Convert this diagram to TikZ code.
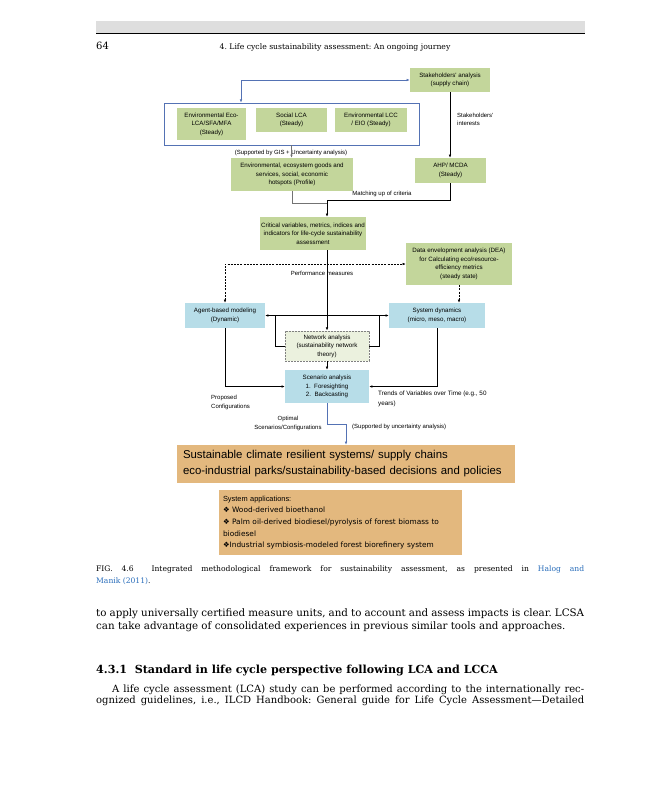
\documentclass[tikz,border=0pt]{standalone}
\usepackage{fontspec}
\newfontfamily\arial{Liberation Sans}
\newfontfamily\dejavu{DejaVu Sans}
\newfontfamily\bodyserif[Ligatures=TeX]{DejaVu Serif}
\usetikzlibrary{arrows.meta}
\definecolor{boxgreen}{HTML}{C3D69B}
\definecolor{boxblue}{HTML}{B7DDE8}
\definecolor{netgreen}{HTML}{EBF1DE}
\definecolor{tan}{HTML}{E3B87E}
\definecolor{frameblue}{HTML}{5472B4}
\definecolor{linkblue}{HTML}{2A6EBB}
\definecolor{bandgray}{HTML}{DEDEDE}
\newcommand{\dia}{\dejavu\symbol{"2756}}
\frenchspacing
\tikzset{
  dtext/.style={font=\arial\fontsize{6.2}{8.6}\selectfont, align=center, inner sep=0pt},
  gbox/.style={dtext, fill=boxgreen, draw=none},
  bbox/.style={dtext, fill=boxblue, draw=none},
  lbl/.style={dtext, font=\arial\fontsize{6}{8.6}\selectfont},
  conn/.style={line width=0.6pt, black},
  gconn/.style={line width=0.8pt, black!55},
  bconn/.style={line width=0.7pt, frameblue},
  dconn/.style={line width=0.6pt, black, dash pattern=on 2pt off 1.2pt},
  serif/.style={inner sep=0pt, anchor=base west},
}
\begin{document}
\begin{tikzpicture}[x=1pt,y=-1pt, >={Latex[length=3.2pt,width=2.6pt]}]
\useasboundingbox[fill=white] (0,0) rectangle (648,800);

% page header
\fill[bandgray] (96,21) rectangle (585,33);
\draw[line width=1pt] (96,33.5) -- (585,33.5);
\node[serif] (pnum) at (96,50) {\bodyserif\fontsize{10}{12}\selectfont 64};
\node[inner sep=0pt, anchor=base] (rtitle) at (335,49) {\bodyserif\fontsize{7.7}{9}\selectfont 4.\ Life cycle sustainability assessment: An ongoing journey};

% diagram boxes
\node[gbox, minimum width=80pt, minimum height=24pt] (stake) at (450,80) {Stakeholders' analysis\\(supply chain)};
\node[draw=frameblue, line width=0.8pt, minimum width=255pt, minimum height=42pt, inner sep=0pt] (outer) at (291.5,124) {};
\node[gbox, minimum width=69pt, minimum height=32pt] (enveco) at (211.5,124) {Environmental Eco-\\LCA/SFA/MFA\\(Steady)};
\node[gbox, minimum width=71pt, minimum height=24pt] (social) at (291.5,120) {Social LCA\\(Steady)};
\node[gbox, minimum width=72pt, minimum height=24pt] (envlcc) at (371,120) {Environmental LCC\\/ EIO (Steady)};
\node[lbl, align=left, anchor=west] (interests) at (457,119.5) {Stakeholders'\\interests};
\node[lbl] (gis) at (291,153) {(Supported by GIS + Uncertainty analysis)};
\node[gbox, minimum width=122pt, minimum height=33pt] (envsvc) at (292,174.5) {Environmental, ecosystem goods and\\services, social, economic\\hotspots (Profile)};
\node[gbox, minimum width=71pt, minimum height=25pt] (ahp) at (450.5,170.5) {AHP/ MCDA\\(Steady)};
\node[lbl] (matching) at (382,194) {Matching up of criteria};
\node[gbox, minimum width=106pt, minimum height=33pt] (crit) at (313,233.5) {Critical variables, metrics, indices and\\indicators for life-cycle sustainability\\assessment};
\node[gbox, minimum width=106pt, minimum height=42pt] (dea) at (459,264) {Data envelopment analysis (DEA)\\for Calculating eco/resource-\\efficiency metrics\\(steady state)};
\node[lbl] (perf) at (322,273) {Performance measures};
\node[bbox, minimum width=80pt, minimum height=25pt] (agent) at (225,315.5) {Agent-based modeling\\(Dynamic)};
\node[bbox, minimum width=96pt, minimum height=25pt] (sysdyn) at (437,315.5) {System dynamics\\(micro, meso, macro)};
\node[dtext, fill=netgreen, draw=black!50, line width=0.9pt, dash pattern=on 2pt off 1pt, minimum width=84pt, minimum height=30pt] (network) at (327,346) {Network analysis\\(sustainability network\\theory)};
\node[bbox, minimum width=84pt, minimum height=33pt] (scen) at (327,386.5) {Scenario analysis\\1.\ \ Foresighting\\2.\ \ Backcasting};
\node[lbl, align=left, anchor=west] (proposed) at (211,402.5) {Proposed\\Configurations};
\node[lbl, align=left, anchor=west, font=\arial\fontsize{6.3}{9.5}\selectfont] (trends) at (378,399) {Trends of Variables over Time (e.g., 50\\years)};
\node[lbl] (optimal) at (288,423.5) {Optimal\\Scenarios/Configurations};
\node[lbl, anchor=west] (supp) at (352,427) {(Supported by uncertainty analysis)};
\node[fill=tan, minimum width=338pt, minimum height=38pt, inner xsep=6pt, inner ysep=0pt, text width=326pt, align=left, font=\arial\fontsize{11.4}{16}\selectfont] (sust) at (346,464) {Sustainable climate resilient systems/ supply chains\\eco-industrial parks/sustainability-based decisions and policies};
\node[fill=tan, minimum width=243pt, minimum height=65pt, inner xsep=4pt, inner ysep=0pt, text width=235pt, align=left, font=\arial\fontsize{7.4}{11.7}\selectfont] (sysapp) at (340.5,522.5) {System applications:\\\dia{} Wood-derived bioethanol\\\dia{} Palm oil-derived biodiesel/pyrolysis of forest biomass to\\biodiesel\\\dia{}Industrial symbiosis-modeled forest biorefinery system};

% connectors
\coordinate (bc) at (241,80);
\draw[bconn,<->] (outer.north -| bc) |- (stake.west);
\draw[conn,->] (stake.south) -- (stake.south |- ahp.north);
\draw[gconn,->] (outer.south) -- (outer.south |- envsvc.north);
\coordinate (jx) at (327,200);
\coordinate (jl) at (327,203);
\draw[gconn] (envsvc.south) |- (jl);
\draw[conn,->] (ahp.south) |- (jx) -- (jx |- crit.north);
\draw[conn,->] (crit.south -| network.north) -- (network.north);
\draw[dconn,<->] (agent.north) |- (dea.west);
\draw[dconn,->] (dea.south) -- (dea.south |- sysdyn.north);
\draw[conn,<->] (agent.east) -- (sysdyn.west);
\coordinate (bl) at (275,315.5);
\coordinate (br) at (379,315.5);
\draw[conn] (bl) |- (network.west);
\draw[conn] (br) |- (network.east);
\draw[conn,->] (network.south) -- (scen.north);
\draw[conn,->] (agent.south) |- (scen.west);
\draw[conn,->] (sysdyn.south) |- (scen.east);
\coordinate (bk) at (346,424);
\draw[bconn,->] (scen.south) |- (bk) -- (bk |- sust.north);

% caption and body text
\node[serif] (cap1) at (96,571) {\makebox[488pt][s]{\bodyserif\fontsize{7.6}{12}\selectfont FIG. 4.6\ \ Integrated methodological framework for sustainability assessment, as presented in \textcolor{linkblue}{Halog and}}};
\node[serif] (cap2) at (96,583) {\bodyserif\fontsize{7.6}{12}\selectfont\textcolor{linkblue}{Manik (2011)}.};
\node[serif] (body1) at (96,616) {\makebox[488pt][s]{\bodyserif\fontsize{10.3}{13}\selectfont to apply universally certified measure units, and to account and assess impacts is clear. LCSA}};
\node[serif] (body2) at (96,629) {\bodyserif\fontsize{10.3}{13}\selectfont can take advantage of consolidated experiences in previous similar tools and approaches.};
\node[serif] (head) at (96,673) {\bodyserif\fontsize{11.1}{14}\selectfont\bfseries 4.3.1\ \ Standard in life cycle perspective following LCA and LCCA};
\node[serif] (body3) at (112,692) {\makebox[472pt][s]{\bodyserif\fontsize{10}{12}\selectfont A life cycle assessment (LCA) study can be performed according to the internationally rec-}};
\node[serif] (body4) at (96,703) {\makebox[488pt][s]{\bodyserif\fontsize{10}{12}\selectfont ognized guidelines, i.e., ILCD Handbook: General guide for Life Cycle Assessment\textemdash Detailed}};
\end{tikzpicture}
\end{document}
